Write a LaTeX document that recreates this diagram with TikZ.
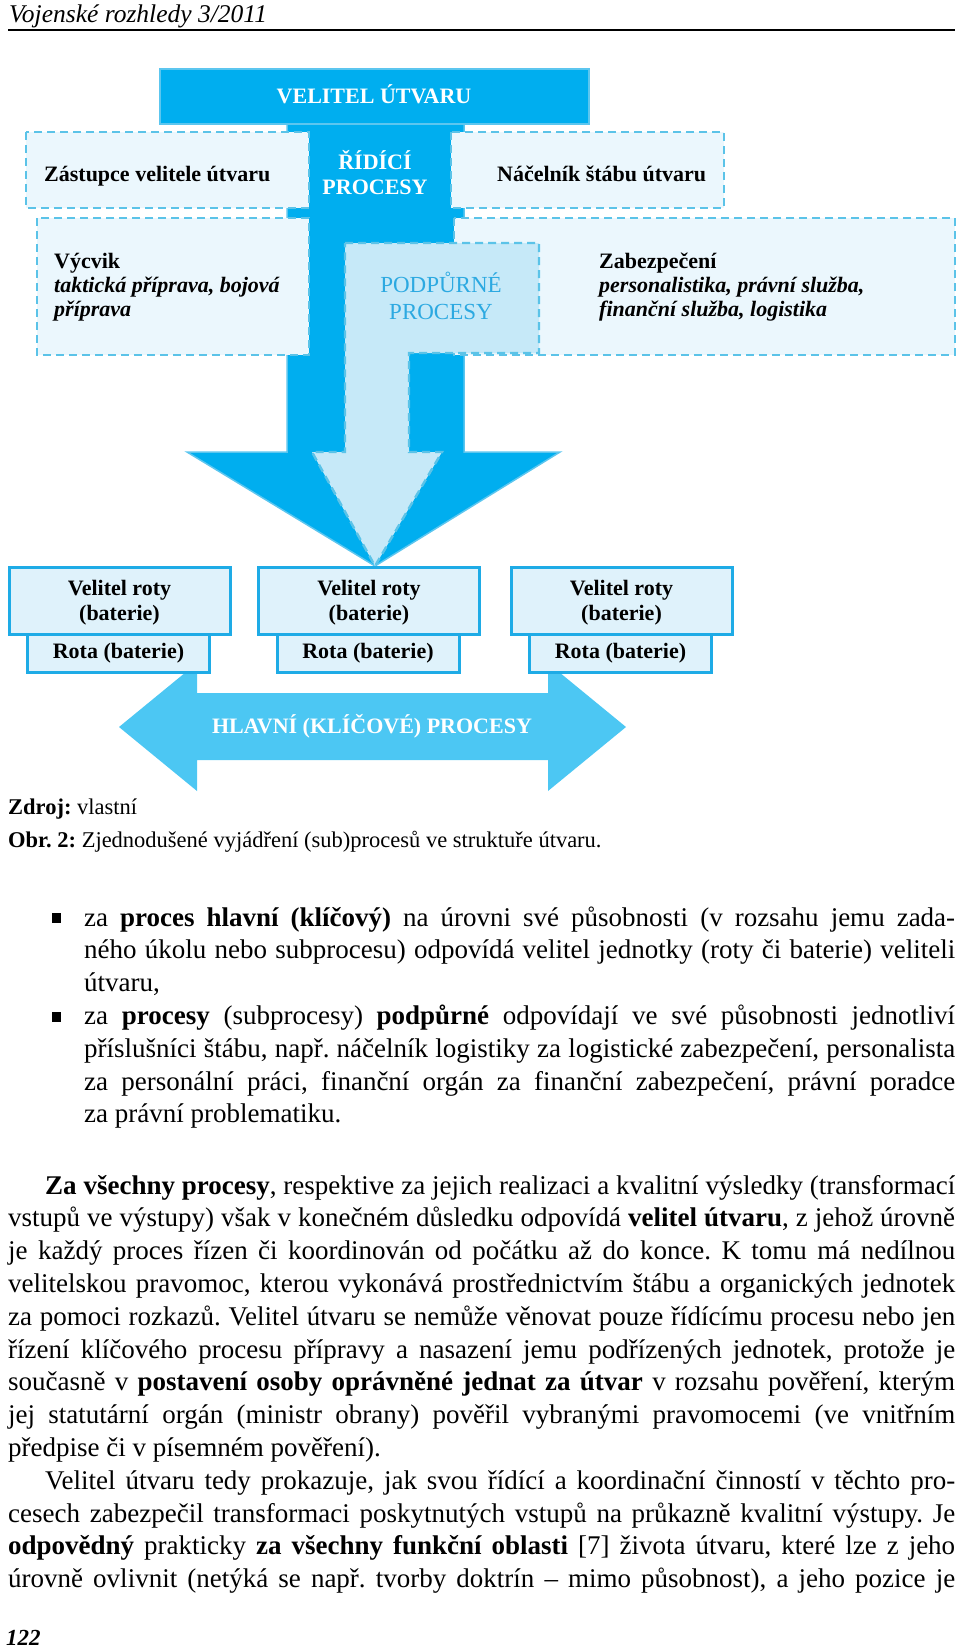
\documentclass[tikz,border=0pt]{standalone}
\usepackage{fontspec}
\setmainfont{Liberation Serif}
\frenchspacing
\definecolor{procblue}{HTML}{00AEEF}
\definecolor{procedge}{HTML}{5CC6EF}
\definecolor{dashfill}{HTML}{EBF7FD}
\definecolor{dashline}{HTML}{5BC3E8}
\definecolor{supfill}{HTML}{C6E9F8}
\definecolor{suptext}{HTML}{2CA9E1}
\definecolor{unitfill}{HTML}{DFF2FB}
\definecolor{unitline}{HTML}{1EABE6}
\definecolor{mainfill}{HTML}{4CC7F3}
\newcommand{\jline}[2][947pt]{\makebox[#1][s]{#2}}
\begin{document}
\begin{tikzpicture}[x=1pt,y=-1pt,
  lbl/.style={font=\fontsize{22}{26}\selectfont\bfseries,inner sep=0pt},
  dashbox/.style={fill=dashfill,draw=dashline,line width=2.6pt,dash pattern=on 8pt off 5pt},
  unitbox/.style={fill=unitfill,draw=unitline,line width=3pt},
  bodytxt/.style={font=\fontsize{27}{33}\selectfont,anchor=base west,inner sep=0pt}]
\useasboundingbox (0,0) rectangle (960,1648);
% header
\node[anchor=base west,inner sep=0pt,font=\fontsize{25.5}{30}\selectfont\itshape] (head) at (9,23) {Vojenské rozhledy 3/2011};
\draw[line width=1.3pt] (8,30) -- (955,30);
% commander arrow
\filldraw[fill=procblue,draw=procedge,line width=1.5pt] (287,120) -- (464,120) -- (464,452) -- (560,452)
  -- (375,566) -- (187,452) -- (287,452) -- cycle;
\filldraw[fill=procblue,draw=procedge,line width=2pt] (160,69) rectangle (589,124);
% staff boxes
\filldraw[dashbox] (26,132) rectangle (309,208);
\filldraw[dashbox] (451,132) rectangle (724,208);
\filldraw[dashbox] (37,218) rectangle (309,355);
\filldraw[dashbox] (454,218) rectangle (955,355);
% support arrow
\filldraw[fill=supfill,draw=dashline,line width=2.4pt,dash pattern=on 8pt off 5pt] (345,243) -- (539,243)
  -- (539,353) -- (409,353) -- (409,452) -- (442,452) -- (375,566) -- (312,452) -- (345,452) -- cycle;
\node[lbl,text=white,anchor=base] (cmdr) at (374,104) {VELITEL ÚTVARU};
\node[lbl,text=white,anchor=base] (ctrl1) at (375,170) {ŘÍDÍCÍ};
\node[lbl,text=white,anchor=base] (ctrl2) at (375,195) {PROCESY};
\node[lbl,anchor=base west] (deputy) at (44,182) {Zástupce velitele útvaru};
\node[lbl,anchor=base west] (chief) at (497,182) {Náčelník štábu útvaru};
\node[lbl,anchor=base west] (train1) at (54,268) {Výcvik};
\node[lbl,anchor=base west,font=\fontsize{22}{26}\selectfont\bfseries\itshape] (train2) at (54,292) {taktická příprava, bojová};
\node[lbl,anchor=base west,font=\fontsize{22}{26}\selectfont\bfseries\itshape] (train3) at (54,316) {příprava};
\node[lbl,anchor=base west] (supp1) at (599,268) {Zabezpečení};
\node[lbl,anchor=base west,font=\fontsize{22}{26}\selectfont\bfseries\itshape] (supp2) at (599,292) {personalistika, právní služba,};
\node[lbl,anchor=base west,font=\fontsize{22}{26}\selectfont\bfseries\itshape] (supp3) at (599,316) {finanční služba, logistika};
\node[lbl,anchor=base,font=\fontsize{23}{27}\selectfont,text=suptext] (sup1) at (441,292) {PODPŮRNÉ};
\node[lbl,anchor=base,font=\fontsize{23}{27}\selectfont,text=suptext] (sup2) at (441,319) {PROCESY};
% main processes
\fill[mainfill] (119,727) -- (197,663) -- (197,693) -- (548,693) -- (548,663) -- (626,727)
  -- (548,791) -- (548,760) -- (197,760) -- (197,791) -- cycle;
\node[lbl,text=white,anchor=base] (mainp) at (372,733) {HLAVNÍ (KLÍČOVÉ) PROCESY};
\foreach \cx/\nm in {119.5/a,369/b,621.5/c}{
  \filldraw[unitbox] (\cx-92,634) rectangle (\cx+90,672);
  \filldraw[unitbox] (\cx-110.5,567) rectangle (\cx+110.5,634);
  \node[lbl,anchor=base] (cmd\nm) at (\cx,595) {Velitel roty};
  \node[lbl,anchor=base] (bat\nm) at (\cx,620) {(baterie)};
  \node[lbl,anchor=base] (coy\nm) at (\cx-1,658) {Rota (baterie)};
}
% caption
\node[anchor=base west,inner sep=0pt,font=\fontsize{22.5}{28}\selectfont] (src) at (8,814) {\textbf{Zdroj:} vlastní};
\node[anchor=base west,inner sep=0pt,font=\fontsize{22.5}{28}\selectfont] (cap) at (8,847) {\textbf{Obr. 2:} Zjednodušené vyjádření (sub)procesů ve struktuře útvaru.};
% text
\fill (52,913) rectangle (61,923);
\fill (52,1012) rectangle (61,1022);
\foreach \ln [count=\k from 0] in {
  {\jline[871pt]{za \textbf{proces hlavní (klíčový)} na úrovni své působnosti (v rozsahu jemu zada-}},
  {\jline[871pt]{ného úkolu nebo subprocesu) odpovídá velitel jednotky (roty či baterie) veliteli}},
  {útvaru,},
  {\jline[871pt]{za \textbf{procesy} (subprocesy) \textbf{podpůrné} odpovídají ve své působnosti jednotliví}},
  {\jline[871pt]{příslušníci štábu, např. náčelník logistiky za logistické zabezpečení, personalista}},
  {\jline[871pt]{za personální práci, finanční orgán za finanční zabezpečení, právní poradce}},
  {za právní problematiku.}}
  \node[bodytxt] (bul\k) at (84,{926+32.8*\k}) {\ln};
\foreach \ln/\ix [count=\k from 0] in {
  {\jline[910pt]{\textbf{Za všechny procesy}, respektive za jejich realizaci a kvalitní výsledky (transformací}}/45,
  {\jline{vstupů ve výstupy) však v konečném důsledku odpovídá \textbf{velitel útvaru}, z jehož úrovně}}/8,
  {\jline{je každý proces řízen či koordinován od počátku až do konce. K tomu má nedílnou}}/8,
  {\jline{velitelskou pravomoc, kterou vykonává prostřednictvím štábu a organických jednotek}}/8,
  {\jline{za pomoci rozkazů. Velitel útvaru se nemůže věnovat pouze řídícímu procesu nebo jen}}/8,
  {\jline{řízení klíčového procesu přípravy a nasazení jemu podřízených jednotek, protože je}}/8,
  {\jline{současně v \textbf{postavení osoby oprávněné jednat za útvar} v rozsahu pověření, kterým}}/8,
  {\jline{jej statutární orgán (ministr obrany) pověřil vybranými pravomocemi (ve vnitřním}}/8,
  {předpise či v písemném pověření).}/8,
  {\jline[910pt]{Velitel útvaru tedy prokazuje, jak svou řídící a koordinační činností v těchto pro-}}/45,
  {\jline{cesech zabezpečil transformaci poskytnutých vstupů na průkazně kvalitní výstupy. Je}}/8,
  {\jline{\textbf{odpovědný} prakticky \textbf{za všechny funkční oblasti} [7] života útvaru, které lze z jeho}}/8,
  {\jline{úrovně ovlivnit (netýká se např. tvorby doktrín -- mimo působnost), a jeho pozice je}}/8}
  \node[bodytxt] (par\k) at (\ix,{1194+32.8*\k}) {\ln};
\node[anchor=base west,inner sep=0pt,font=\fontsize{23}{28}\selectfont\bfseries\itshape] (pgno) at (6,1645) {122};
\end{tikzpicture}
\end{document}
